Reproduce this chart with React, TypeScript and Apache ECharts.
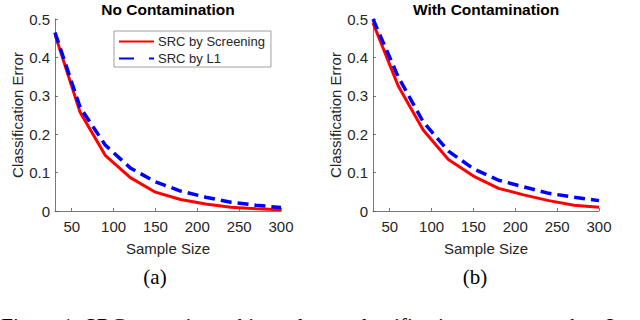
import React, { useEffect, useRef } from "react";
import * as echarts from "echarts";

const sampleSizes = [30, 60, 90, 120, 150, 180, 210, 240, 270, 300];
const xTicks = [50, 100, 150, 200, 250, 300];
const noContScreening = [0.46, 0.257, 0.145, 0.087, 0.049, 0.03, 0.018, 0.01, 0.006, 0.003];
const noContL1 = [0.465, 0.27, 0.172, 0.112, 0.076, 0.052, 0.036, 0.023, 0.015, 0.009];
const withContScreening = [0.49, 0.326, 0.211, 0.134, 0.091, 0.059, 0.042, 0.027, 0.015, 0.01];
const withContL1 = [0.5, 0.35, 0.232, 0.156, 0.11, 0.08, 0.063, 0.046, 0.036, 0.027];
const titles = ["No Contamination", "With Contamination"];
const seriesNames = ["SRC by Screening", "SRC by L1"];
const subLabels = ["(a)", "(b)"];
const caption = "Figure 1: SRC screening achieves lower classification error rates than L";

const SANS = "'Liberation Sans', Arial, Helvetica, sans-serif";
const SERIF = "'Liberation Serif', 'Times New Roman', serif";
const AXIS_COLOR = "#262626";

export default function App() {
  const ref = useRef<HTMLDivElement>(null);
  useEffect(() => {
    if (!ref.current) return;
    const chart = echarts.init(ref.current, undefined, { renderer: "svg" });
    const grids = [
      { left: 55, top: 19, width: 226, height: 192 },
      { left: 373, top: 19, width: 226, height: 192 },
    ];
    const mk = (vals: number[]) => sampleSizes.map((x, i) => [x, vals[i]]);
    const xAxes = grids.map((_, i) => ({
      type: "value",
      gridIndex: i,
      min: 30,
      max: 300,
      name: "Sample Size",
      nameLocation: "middle",
      nameGap: 30,
      nameTextStyle: { color: AXIS_COLOR, fontSize: 15, fontFamily: SANS },
      splitLine: { show: false },
      axisLine: { show: true, lineStyle: { color: "#555", width: 0.8 } },
      axisTick: { show: true, inside: true, length: 3, customValues: xTicks, lineStyle: { color: "#555", width: 0.8 } },
      axisLabel: { customValues: xTicks, color: AXIS_COLOR, fontSize: 15, fontFamily: SANS, margin: 8 },
    }));
    const yAxes = grids.map((_, i) => ({
      type: "value",
      gridIndex: i,
      min: 0,
      max: 0.5,
      interval: 0.1,
      name: "Classification Error",
      nameLocation: "middle",
      nameGap: 30,
      nameRotate: 90,
      nameTextStyle: { color: AXIS_COLOR, fontSize: 15, fontFamily: SANS },
      splitLine: { show: false },
      axisLine: { show: true, lineStyle: { color: "#555", width: 0.8 } },
      axisTick: { show: true, inside: true, length: 3, lineStyle: { color: "#555", width: 0.8 } },
      axisLabel: { color: AXIS_COLOR, fontSize: 15, fontFamily: SANS, margin: 5 },
    }));
    const seriesData = [
      [noContScreening, noContL1],
      [withContScreening, withContL1],
    ];
    const series: any[] = [];
    seriesData.forEach((pair, gi) => {
      series.push({
        name: seriesNames[0],
        type: "line",
        xAxisIndex: gi,
        yAxisIndex: gi,
        data: mk(pair[0]),
        symbol: "none",
        lineStyle: { color: "#ff0000", width: 3 },
        itemStyle: { color: "#ff0000" },
        z: 2,
      });
      series.push({
        name: seriesNames[1],
        type: "line",
        xAxisIndex: gi,
        yAxisIndex: gi,
        data: mk(pair[1]),
        symbol: "none",
        lineStyle: { color: "#0000ff", width: 3.5, type: [11, 6] },
        itemStyle: { color: "#0000ff" },
        z: 3,
      });
    });
    chart.setOption({
      animation: false,
      backgroundColor: "#ffffff",
      grid: grids,
      xAxis: xAxes,
      yAxis: yAxes,
      series,
      legend: {
        orient: "vertical",
        left: 114,
        top: 31,
        itemWidth: 35,
        itemHeight: 14,
        itemGap: 4,
        padding: [4, 6, 2, 4],
        borderColor: "#888",
        borderWidth: 0.8,
        backgroundColor: "#fff",
        selectedMode: false,
        itemStyle: { opacity: 0 },
        textStyle: { color: AXIS_COLOR, fontSize: 13, fontFamily: SANS, padding: [0, 0, 0, -1] },
        data: [
          { name: seriesNames[0] },
          { name: seriesNames[1], lineStyle: { type: [15, 15] } },
        ],
      },
      title: grids.map((g, i) => ({
        text: titles[i],
        left: g.left + g.width / 2,
        top: 1,
        padding: 0,
        textAlign: "center",
        textStyle: { color: "#000", fontSize: 15.5, fontWeight: "bold", fontFamily: SANS },
      })),
      graphic: [
        ...grids.map((g, i) => ({
          type: "text",
          x: i === 0 ? 155 : 475,
          y: 277,
          style: {
            text: subLabels[i],
            fill: "#000",
            font: `21px ${SERIF}`,
            textAlign: "center",
            textVerticalAlign: "middle",
          },
        })),
        {
          type: "text",
          x: 1,
          y: 315,
          style: {
            text: caption,
            fill: "#000",
            font: `21.5px ${SERIF}`,
            textAlign: "left",
            textVerticalAlign: "top",
          },
        },
      ],
    });
    return () => chart.dispose();
  }, []);
  return (
    <div
      ref={ref}
      style={{ position: "fixed", left: 0, top: 0, width: 640, height: 320, background: "#fff" }}
    />
  );
}
